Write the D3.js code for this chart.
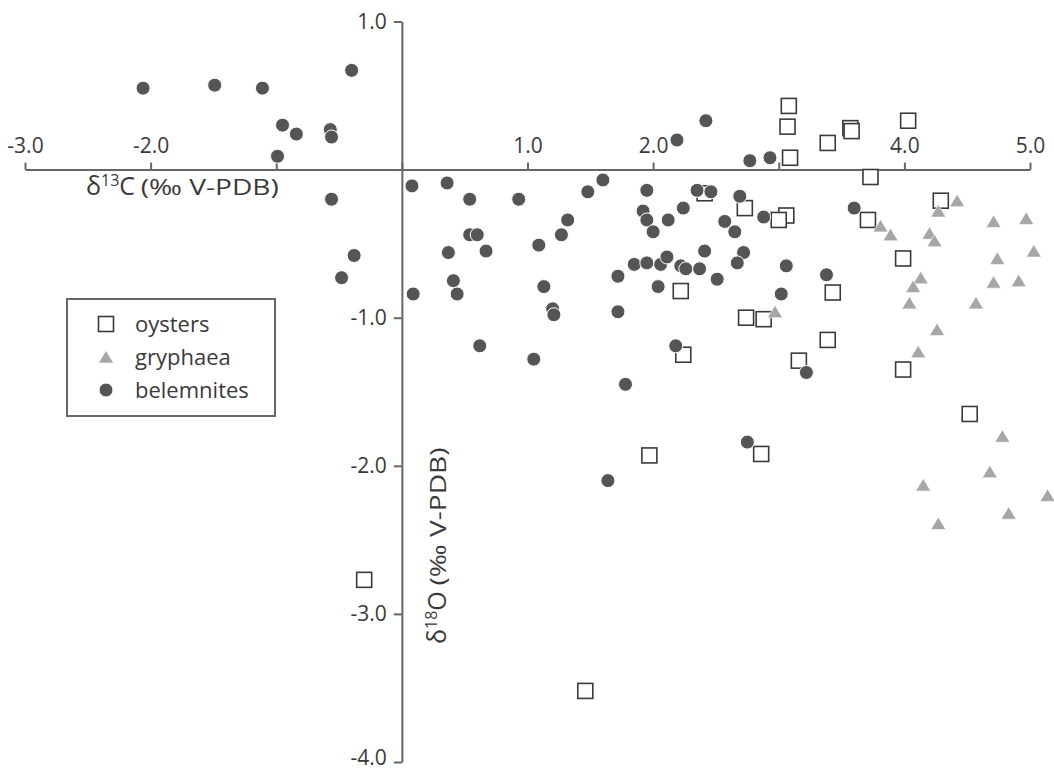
<!DOCTYPE html>
<html>
<head>
<meta charset="utf-8">
<script src="https://cdn.jsdelivr.net/npm/d3@7"></script>
<style>
  body { margin: 0; background: #fff; }
  svg text { font-family: "Open Sans", sans-serif; fill: #3a3a3a; }
</style>
</head>
<body>
<div id="chart"></div>
<script>
// δ13C / δ18O values, one array pair per group
const oystersX = [3.08, 3.07, 3.09, 3.39, 3.57, 3.58, 4.03, 3.73, 4.29, 3.71, 3.99, 3.43, 3.39, 3.99, 4.52,
                  2.41, 2.73, 3.06, 3.00, 2.74, 2.88, 2.22, 2.24, 3.16, 1.97, 2.86, -0.30, 1.46];
const oystersY = [0.43, 0.29, 0.08, 0.18, 0.28, 0.26, 0.33, -0.05, -0.21, -0.34, -0.60, -0.83, -1.15, -1.35, -1.65,
                  -0.16, -0.26, -0.31, -0.34, -1.00, -1.01, -0.82, -1.25, -1.29, -1.93, -1.92, -2.77, -3.52];

const gryphaeaX = [4.42, 4.27, 3.81, 3.89, 4.20, 4.24, 4.71, 4.97, 5.03, 4.74, 4.13, 4.07, 4.04, 4.71, 4.91,
                   4.57, 4.26, 4.11, 2.97, 4.78, 4.68, 4.15, 5.14, 4.83, 4.27];
const gryphaeaY = [-0.21, -0.28, -0.38, -0.44, -0.43, -0.48, -0.35, -0.33, -0.55, -0.60, -0.73, -0.79, -0.90, -0.76, -0.75,
                   -0.90, -1.08, -1.23, -0.96, -1.80, -2.04, -2.13, -2.20, -2.32, -2.39];

const belemnitesX = [-2.06, -1.49, -1.11, -0.40, -0.95, -0.84, -0.57, -0.56, -0.99, -0.56, -0.48, -0.38,
                     0.08, 0.36, 0.54, 0.93, 1.48, 1.60, 1.32, 1.27, 0.54, 0.60, 0.37, 0.67, 1.09, 0.41, 0.44, 0.09,
                     1.13, 1.20, 1.21, 0.62, 1.05,
                     2.42, 2.19, 2.77, 2.93, 1.95, 2.35, 2.46, 2.69, 1.92, 1.95, 2.00, 2.12, 2.24, 2.57, 2.65, 2.88,
                     2.41, 2.72, 2.67, 3.06, 1.72, 1.85, 1.95, 2.06, 2.11, 2.22, 2.26, 2.37, 2.51, 2.04, 1.72, 3.02,
                     3.38, 3.60, 2.18, 1.78, 3.22, 2.75, 1.64];
const belemnitesY = [0.55, 0.57, 0.55, 0.67, 0.30, 0.24, 0.27, 0.22, 0.09, -0.20, -0.73, -0.58,
                     -0.11, -0.09, -0.20, -0.20, -0.15, -0.07, -0.34, -0.44, -0.44, -0.44, -0.56, -0.55, -0.51, -0.75, -0.84, -0.84,
                     -0.79, -0.94, -0.98, -1.19, -1.28,
                     0.33, 0.20, 0.06, 0.08, -0.14, -0.14, -0.15, -0.18, -0.28, -0.34, -0.42, -0.34, -0.26, -0.35, -0.42, -0.32,
                     -0.55, -0.56, -0.63, -0.65, -0.72, -0.64, -0.63, -0.64, -0.59, -0.65, -0.67, -0.67, -0.74, -0.79, -0.96, -0.84,
                     -0.71, -0.26, -1.19, -1.45, -1.37, -1.84, -2.10];

const xTicks = [-3, -2, -1, 0, 1, 2, 3, 4, 5];
const xTickLabels = ['-3.0', '-2.0', '', '', '1.0', '2.0', '', '4.0', '5.0'];
const yTicks = [1, 0, -1, -2, -3, -4];
const yTickLabels = ['1.0', '', '-1.0', '-2.0', '-3.0', '-4.0'];

const legendNames = ['oysters', 'gryphaea', 'belemnites'];

const width = 1054, height = 771;

const svg = d3.select('#chart').append('svg')
    .attr('width', width)
    .attr('height', height);

const x = d3.scaleLinear().domain([-3, 5]).range([25, 1030]);
const y = d3.scaleLinear().domain([1, -4]).range([21.5, 762]);

const axisColor = '#666';

// x axis crosses at δ18O = 0, labels above the line
const xAxis = svg.append('g')
    .attr('transform', `translate(0,${y(0)})`)
    .call(d3.axisTop(x)
        .tickValues(xTicks)
        .tickFormat((d, i) => xTickLabels[i])
        .tickSize(7)
        .tickSizeOuter(0)
        .tickPadding(10));

// y axis crosses at δ13C = 0
const yAxis = svg.append('g')
    .attr('transform', `translate(${x(0)},0)`)
    .call(d3.axisLeft(y)
        .tickValues(yTicks)
        .tickFormat((d, i) => yTickLabels[i])
        .tickSize(8)
        .tickSizeOuter(0)
        .tickPadding(7));

[xAxis, yAxis].forEach(g => {
    g.select('.domain').attr('stroke', axisColor).attr('stroke-width', 2);
    g.selectAll('.tick line').attr('stroke', axisColor).attr('stroke-width', 2);
    g.selectAll('.tick text')
        .style('font-family', '"Open Sans", sans-serif')
        .style('font-size', '21px')
        .attr('fill', '#3a3a3a');
});
// bottom label sits on the page edge, lift it a little
yAxis.selectAll('.tick text').filter(d => d === -4).attr('dy', '0.1em');

// axis titles
function addTitle(t, sup, letter) {
    t.append('tspan').style('font-size', '25px').text('δ');
    t.append('tspan').style('font-size', '16px').attr('dy', -9).text(sup);
    t.append('tspan').style('font-size', '25px').attr('dy', 9).text(letter);
    t.append('tspan').style('font-size', '22px').text(' ');
    t.append('tspan').style('font-size', '22px')
        .attr('textLength', 138)
        .attr('lengthAdjust', 'spacingAndGlyphs')
        .text('(‰ V-PDB)');
}
addTitle(svg.append('text').attr('x', 86).attr('y', 195), '13', 'C');
addTitle(svg.append('text').attr('transform', 'translate(446,644) rotate(-90)'), '18', 'O');

// marker drawers
const squareSize = 15;
function drawSquare(sel) {
    return sel.append('rect')
        .attr('x', -squareSize / 2)
        .attr('y', -squareSize / 2)
        .attr('width', squareSize)
        .attr('height', squareSize)
        .attr('fill', '#fff')
        .attr('stroke', '#3a3a3a')
        .attr('stroke-width', 1.6);
}
function drawTriangle(sel) {
    return sel.append('path')
        .attr('d', 'M0,-6.5L7.5,6L-7.5,6Z')
        .attr('fill', '#a6a6a6')
        .attr('stroke', '#fff')
        .attr('stroke-width', 0.6);
}
function drawCircle(sel) {
    return sel.append('circle')
        .attr('r', 7)
        .attr('fill', '#555')
        .attr('stroke', '#fff')
        .attr('stroke-width', 1);
}

const oysters = oystersX.map((v, i) => ({ x: v, y: oystersY[i] }));
const gryphaea = gryphaeaX.map((v, i) => ({ x: v, y: gryphaeaY[i] }));
const belemnites = belemnitesX.map((v, i) => ({ x: v, y: belemnitesY[i] }));

function plotSeries(data, draw) {
    const g = svg.append('g');
    g.selectAll('g')
        .data(data)
        .enter().append('g')
        .attr('transform', d => `translate(${x(d.x)},${y(d.y)})`)
        .call(draw);
}

plotSeries(oysters, drawSquare);
plotSeries(gryphaea, drawTriangle);
plotSeries(belemnites, drawCircle);

// legend
const legend = svg.append('g').attr('transform', 'translate(67,299)');
legend.append('rect')
    .attr('width', 208)
    .attr('height', 117)
    .attr('fill', '#fff')
    .attr('stroke', axisColor)
    .attr('stroke-width', 2);

const drawers = [drawSquare, drawTriangle, drawCircle];
legendNames.forEach((name, i) => {
    const row = legend.append('g').attr('transform', `translate(39,${25 + i * 33})`);
    row.append('g').call(drawers[i]);
    row.append('text')
        .attr('x', 29)
        .attr('dy', '0.35em')
        .style('font-size', '22px')
        .text(name);
});
</script>
</body>
</html>
